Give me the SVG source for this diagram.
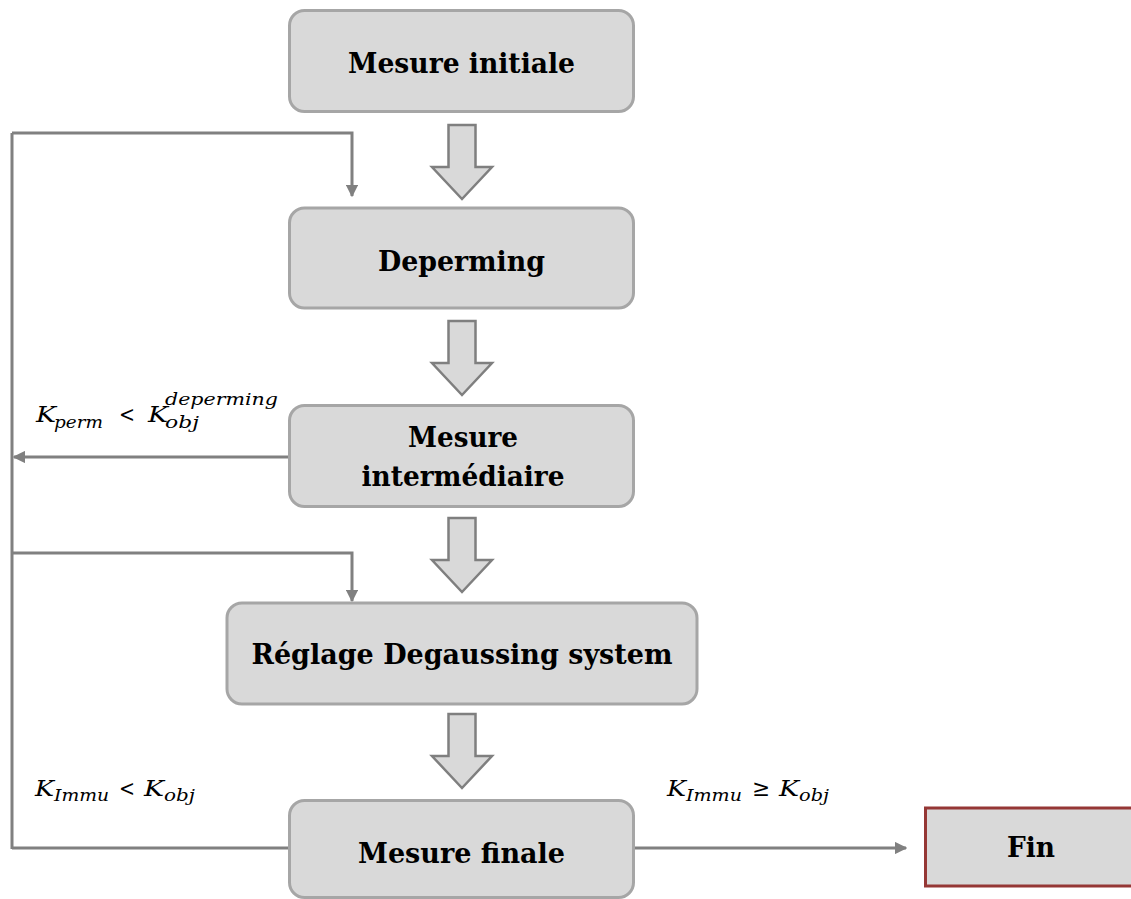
<svg xmlns="http://www.w3.org/2000/svg" width="1131" height="899" viewBox="0 0 1131 899">
<defs>
<style>
.box{fill:#d9d9d9;stroke:#a6a6a6;stroke-width:3}
.fin{fill:#d9d9d9;stroke:#953735;stroke-width:3}
.lbl{font-family:"DejaVu Serif",serif;font-weight:bold;font-size:28px;fill:#000;text-anchor:middle}
.blk{fill:#d9d9d9;stroke:#7f7f7f;stroke-width:2.5;stroke-linejoin:miter}
.con{fill:none;stroke:#808080;stroke-width:3}
.m{font-family:"DejaVu Serif",serif;font-style:italic;fill:#000}
.mo{font-family:"DejaVu Serif",serif;fill:#000}
</style>
<marker id="ah" viewBox="0 0 10 10" refX="9" refY="5" markerWidth="4.2" markerHeight="4.2" orient="auto" markerUnits="strokeWidth">
<path d="M0,0 L10,5 L0,10 z" fill="#808080"/>
</marker>
<path id="barrow" d="M-13.5,0 H13.5 V42 H30 L0,74 L-30,42 H-13.5 Z"/>
</defs>

<g id="connectors">
<path class="con" d="M12,133 V849"/>
<path class="con" d="M12,133 H352 V196" marker-end="url(#ah)"/>
<path class="con" d="M289,457 H14" marker-end="url(#ah)"/>
<path class="con" d="M12,553 H352 V601" marker-end="url(#ah)"/>
<path class="con" d="M289,848 H12"/>
<path class="con" d="M634,848 H906" marker-end="url(#ah)"/>
<use href="#barrow" class="blk" x="462" y="125"/>
<use href="#barrow" class="blk" x="462" y="321"/>
<use href="#barrow" class="blk" x="462" y="518"/>
<use href="#barrow" class="blk" x="462" y="714"/>
</g>

<g id="n1">
<rect class="box" x="289.5" y="10.5" width="344" height="101" rx="15"/>
<text class="lbl" x="461.5" y="73" textLength="227" lengthAdjust="spacingAndGlyphs">Mesure initiale</text>
</g>
<g id="n2">
<rect class="box" x="289.5" y="208" width="344" height="100" rx="15"/>
<text class="lbl" x="461.5" y="271" textLength="167" lengthAdjust="spacingAndGlyphs">Deperming</text>
</g>
<g id="n3">
<rect class="box" x="289.5" y="405.5" width="344" height="101" rx="15"/>
<text class="lbl" x="463" y="447" textLength="110" lengthAdjust="spacingAndGlyphs">Mesure</text>
<text class="lbl" x="463" y="486" textLength="203" lengthAdjust="spacingAndGlyphs">intermédiaire</text>
</g>
<g id="n4">
<rect class="box" x="227" y="603" width="470" height="101" rx="15"/>
<text class="lbl" x="462" y="664" textLength="421" lengthAdjust="spacingAndGlyphs">Réglage Degaussing system</text>
</g>
<g id="n5">
<rect class="box" x="289.5" y="800.5" width="344" height="97" rx="15"/>
<text class="lbl" x="461.5" y="863" textLength="207" lengthAdjust="spacingAndGlyphs">Mesure finale</text>
</g>
<g id="n6">
<rect class="fin" x="925.5" y="808" width="215" height="78"/>
<text class="lbl" x="1031" y="857" textLength="48" lengthAdjust="spacingAndGlyphs">Fin</text>
</g>

<g id="label-perm">
<text class="m" x="36" y="422" font-size="22" textLength="20" lengthAdjust="spacingAndGlyphs">K</text>
<text class="m" x="54" y="428" font-size="17" textLength="49" lengthAdjust="spacingAndGlyphs">perm</text>
<text class="mo" x="119" y="422" font-size="23" textLength="16" lengthAdjust="spacingAndGlyphs">&lt;</text>
<text class="m" x="148" y="422" font-size="22" textLength="20" lengthAdjust="spacingAndGlyphs">K</text>
<text class="m" x="165" y="405" font-size="17" textLength="113" lengthAdjust="spacingAndGlyphs">deperming</text>
<text class="m" x="165" y="428" font-size="17" textLength="34" lengthAdjust="spacingAndGlyphs">obj</text>
</g>
<g id="label-immu-lt">
<text class="m" x="35" y="796" font-size="22" textLength="19" lengthAdjust="spacingAndGlyphs">K</text>
<text class="m" x="54" y="801" font-size="17" textLength="55" lengthAdjust="spacingAndGlyphs">Immu</text>
<text class="mo" x="119" y="796" font-size="23" textLength="16" lengthAdjust="spacingAndGlyphs">&lt;</text>
<text class="m" x="144" y="796" font-size="22" textLength="20" lengthAdjust="spacingAndGlyphs">K</text>
<text class="m" x="164" y="801" font-size="17" textLength="31" lengthAdjust="spacingAndGlyphs">obj</text>
</g>
<g id="label-immu-ge">
<text class="m" x="667" y="796" font-size="22" textLength="19" lengthAdjust="spacingAndGlyphs">K</text>
<text class="m" x="686" y="801" font-size="17" textLength="56" lengthAdjust="spacingAndGlyphs">Immu</text>
<text class="mo" x="752" y="796" font-size="23" textLength="18" lengthAdjust="spacingAndGlyphs">≥</text>
<text class="m" x="779" y="796" font-size="22" textLength="20" lengthAdjust="spacingAndGlyphs">K</text>
<text class="m" x="799" y="801" font-size="17" textLength="30" lengthAdjust="spacingAndGlyphs">obj</text>
</g>
</svg>
